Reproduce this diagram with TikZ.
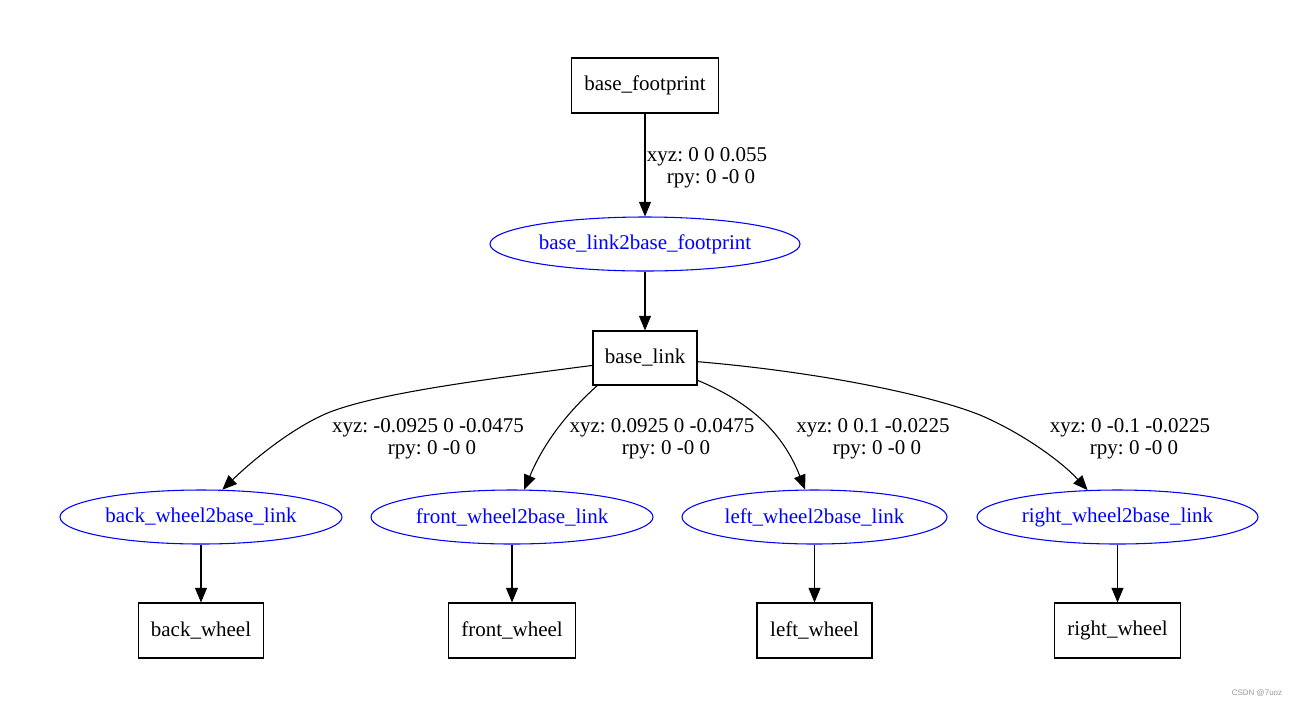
\documentclass[tikz,border=0pt]{standalone}
\usepackage{fontspec}
\setmainfont{Liberation Serif}
\newfontfamily\wmfont{Liberation Sans}
\usetikzlibrary{arrows.meta,shapes.geometric}
\frenchspacing
\begin{document}
\begin{tikzpicture}[x=0.75pt,y=-0.75pt,
  txt/.style={font=\fontsize{15.75pt}{16.5pt}\selectfont},
  box/.style={txt,draw,line width=0.8pt,rectangle,inner sep=0pt,minimum height=41.25pt},
  oval/.style={txt,draw=blue,text=blue,line width=0.8pt,ellipse,inner sep=0pt,minimum height=40.5pt},
  edge/.style={-{Triangle[length=11pt,width=9pt]},line width=0.8pt},
  lbl/.style={txt,align=center,inner sep=0pt}]
\fill[white] (0,0) rectangle (1301,708);
\useasboundingbox (0,0) rectangle (1301,708);

\node[box,minimum width=110.25pt] (bf) at (645,85.5) {base\_footprint};
\node[oval,minimum width=232.5pt] (blbf) at (645,244) {base\_link2base\_footprint};
\node[box,minimum width=78pt,minimum height=40.5pt] (bl) at (645,358) {base\_link};

\node[oval,minimum width=211.5pt] (bwl) at (201,517) {back\_wheel2base\_link};
\node[oval,minimum width=211.5pt] (fwl) at (512,517) {front\_wheel2base\_link};
\node[oval,minimum width=198.75pt] (lwl) at (814.5,517) {left\_wheel2base\_link};
\node[oval,minimum width=210.75pt] (rwl) at (1117.5,517) {right\_wheel2base\_link};

\node[box,minimum width=93.75pt] (bw) at (201,630.5) {back\_wheel};
\node[box,minimum width=95.25pt] (fw) at (512,630.5) {front\_wheel};
\node[box,minimum width=86.25pt] (lw) at (814.5,630.5) {left\_wheel};
\node[box,minimum width=94.5pt] (rw) at (1117.5,630.5) {right\_wheel};

\draw[edge] (bf.south) -- (blbf.north);
\draw[edge] (blbf.south) -- (bl.north);
\draw[edge] (bwl.south) -- (bw.north);
\draw[edge] (fwl.south) -- (fw.north);
\draw[edge] (lwl.south) -- (lw.north);
\draw[edge] (rwl.south) -- (rw.north);

\draw[edge] (bl.188) .. controls (480,380) and (380,393) .. (330,412)
  .. controls (295,426) and (255,458) .. (bwl.52);
\draw[edge] (bl.210) .. controls (570,410) and (545,440) .. (fwl.66);
\draw[edge] (bl.337) .. controls (740,398) and (780,425) .. (lwl.109);
\draw[edge] (bl.356) .. controls (820,372) and (930,395) .. (980,415)
  .. controls (1020,432) and (1060,460) .. (rwl.138);

\node[lbl] (l0) at (707,168) {xyz: 0 0 0.055\\\hspace*{6pt}rpy: 0 -0 0};
\node[lbl] (l1) at (428,439) {xyz: -0.0925 0 -0.0475\\\hspace*{6pt}rpy: 0 -0 0};
\node[lbl] (l2) at (662,439) {xyz: 0.0925 0 -0.0475\\\hspace*{6pt}rpy: 0 -0 0};
\node[lbl] (l3) at (873,439) {xyz: 0 0.1 -0.0225\\\hspace*{6pt}rpy: 0 -0 0};
\node[lbl] (l4) at (1130,439) {xyz: 0 -0.1 -0.0225\\\hspace*{6pt}rpy: 0 -0 0};

\node[font=\wmfont\fontsize{6pt}{7pt}\selectfont,text=black!40,inner sep=0pt] (wm) at (1257,693) {CSDN @7uoz};
\end{tikzpicture}
\end{document}
